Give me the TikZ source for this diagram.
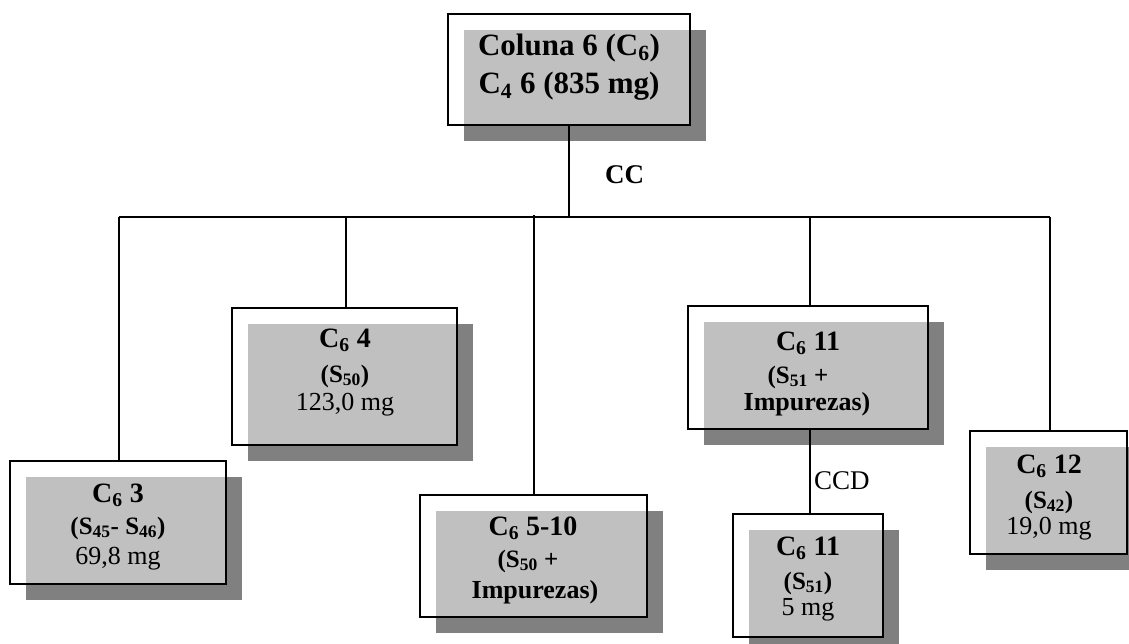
\documentclass[tikz,border=0pt]{standalone}
\usepackage{fontspec}
\setmainfont{Liberation Serif}
\definecolor{shadelight}{HTML}{C0C0C0}
\definecolor{shadedark}{HTML}{808080}
\begin{document}
\begin{tikzpicture}[x=1pt,y=-1pt,
  frame/.style={draw=black, line width=1.6pt, rectangle, inner sep=0pt},
  link/.style={draw=black, line width=1.1pt},
  big/.style={anchor=base, inner sep=0pt, font=\fontsize{31}{33}\selectfont\bfseries},
  ttl/.style={anchor=base, inner sep=0pt, font=\fontsize{28}{30}\selectfont\bfseries},
  sub/.style={anchor=base, inner sep=0pt, text depth=0pt, font=\fontsize{25}{27}\selectfont\bfseries},
  imp/.style={anchor=base, inner sep=0pt, font=\fontsize{26}{28}\selectfont\bfseries},
  mass/.style={anchor=base, inner sep=0pt, text height=14pt, font=\fontsize{26}{28}\selectfont},
  lbl/.style={anchor=base west, inner sep=0pt},
]
\useasboundingbox (0,0) rectangle (1129,643);
\clip (0,0) rectangle (1129,643);
\fill[white] (0,0) rectangle (1129,643);

% shaded panel behind a frame: dark offset shadow, light where it meets the frame
% args: x1,y1,x2,y2 of the frame, offset 16
\def\panel#1#2#3#4{%
  \fill[shadedark] ({#1+16},{#2+16}) rectangle ({#3+16},{#4+16});
  \fill[shadelight] ({#1+16},{#2+16}) rectangle (#3,#4);}

% ---- top box
\panel{448}{14}{690}{125}
\node[frame, minimum width=242pt, minimum height=111pt] (top) at (569,69.5) {};
\node[big] at (569,55) {Coluna 6 (C\textsubscript{6})};
\node[big] at (569,93) {C\textsubscript{4} 6 (835 mg)};

% ---- C6 3
\panel{10}{461}{226}{584}
\node[frame, minimum width=216pt, minimum height=123pt] (c3) at (118,522.5) {};
\node[ttl] at (118,502) {C\textsubscript{6} 3};
\node[sub] at (118,534) {(S\textsubscript{45}- S\textsubscript{46})};
\node[mass] at (118,564) {69,8 mg};

% ---- C6 4
\panel{232}{308}{457}{445}
\node[frame, minimum width=225pt, minimum height=137pt] (c4) at (344.5,376.5) {};
\node[ttl] at (345,347) {C\textsubscript{6} 4};
\node[sub] at (345,382) {(S\textsubscript{50})};
\node[mass] at (345,410) {123,0 mg};

% ---- C6 5-10
\panel{420}{495}{647}{617}
\node[frame, minimum width=227pt, minimum height=122pt] (c5) at (533.5,556) {};
\node[ttl] at (533,535) {C\textsubscript{6} 5-10};
\node[sub] at (528,567) {(S\textsubscript{50} +};
\node[imp] at (535,598) {Impurezas)};

% ---- C6 11 (upper)
\panel{688}{306}{928}{429}
\node[frame, minimum width=240pt, minimum height=123pt] (c11) at (808,367.5) {};
\node[ttl] at (808,350) {C\textsubscript{6} 11};
\node[sub] at (798,383) {(S\textsubscript{51} +};
\node[imp] at (807,410) {Impurezas)};

% ---- C6 11 (lower)
\panel{733}{514}{883}{637}
\node[frame, minimum width=150pt, minimum height=123pt] (c11b) at (808,575.5) {};
\node[ttl] at (808,555) {C\textsubscript{6} 11};
\node[sub] at (808,589) {(S\textsubscript{51})};
\node[mass] at (808,615) {5 mg};

% ---- C6 12
\panel{970}{431}{1127}{554}
\node[frame, minimum width=157pt, minimum height=123pt] (c12) at (1048.5,492.5) {};
\node[ttl] at (1049,473) {C\textsubscript{6} 12};
\node[sub] at (1049,508) {(S\textsubscript{42})};
\node[mass] at (1049,534) {19,0 mg};

% ---- connectors
\coordinate (hub) at (569,217);
\coordinate (hl) at (119,217);
\coordinate (hr) at (1050,217);
\draw[link] (top.south -| hub) -- (hub);
\draw[link] (hl) -- (hr);
\draw[link] (hl) -- (c3.north -| hl);
\draw[link] (346,217) -- (c4.north -| 346,0);
\draw[link] (534,215) -- (c5.north -| 534,0);
\draw[link] (810,217) -- (c11.north -| 810,0);
\draw[link] (hr) -- (c12.north -| hr);
\draw[link] (c11.south -| 810,0) -- (c11b.north -| 810,0);

% ---- labels
\node[lbl, font=\fontsize{27}{29}\selectfont\bfseries] (cc) at (605,183) {CC};
\node[lbl, font=\fontsize{27}{29}\selectfont] (ccd) at (814,489) {CCD};
\end{tikzpicture}
\end{document}
